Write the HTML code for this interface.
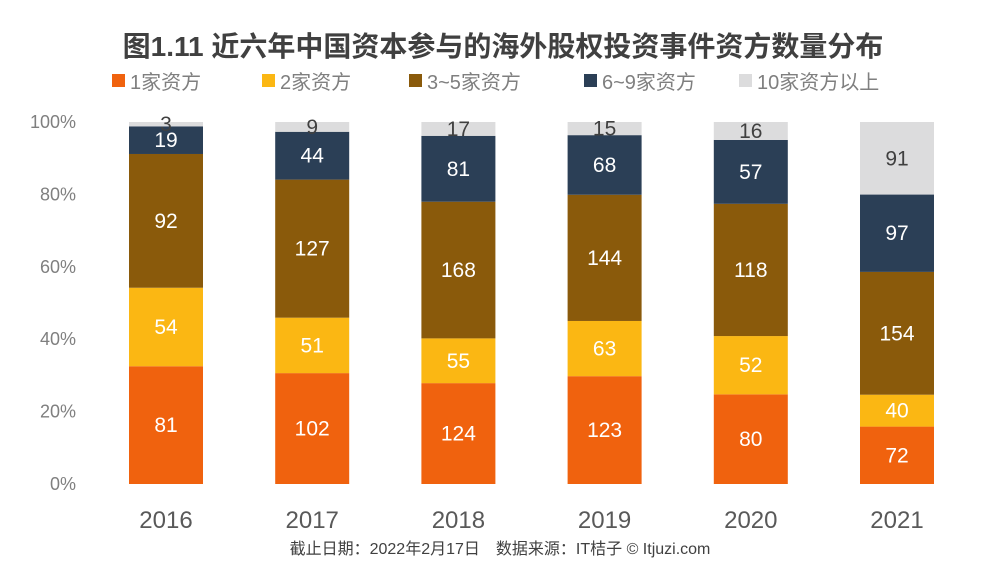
<!DOCTYPE html>
<html><head><meta charset="utf-8"><style>
body{margin:0;width:1000px;height:570px;background:#fff;overflow:hidden;font-family:"Liberation Sans","Noto Sans CJK SC",sans-serif}
svg{display:block}
</style></head><body>
<svg id="c" width="1000" height="570">
<text x="503" y="56" text-anchor="middle" font-size="28" font-weight="bold" fill="#404040">图1.11 近六年中国资本参与的海外股权投资事件资方数量分布</text>
<g id="legend"></g>
<g id="axis"></g>
<g id="bars"></g>
<text x="500" y="554" text-anchor="middle" font-size="16" fill="#404040">截止日期：2022年2月17日　数据来源：IT桔子 © Itjuzi.com</text>
</svg>
<script>
const years=["2016","2017","2018","2019","2020","2021"];
const seriesNames=["1家资方","2家资方","3~5家资方","6~9家资方","10家资方以上"];
const s1=[81,102,124,123,80,72];
const s2=[54,51,55,63,52,40];
const s3=[92,127,168,144,118,154];
const s4=[19,44,81,68,57,97];
const s5=[3,9,17,15,16,91];
const yTicks=[0,20,40,60,80,100];
const series=[s1,s2,s3,s4,s5];
const colors=["#f0620e","#fbb713","#8a5a0b","#2b3f56","#dcdcdd"];
const textColors=["#fff","#fff","#fff","#fff","#404040"];
const NS="http://www.w3.org/2000/svg";
function mk(t,a,p,txt){const e=document.createElementNS(NS,t);for(const k in a)e.setAttribute(k,a[k]);if(txt!==undefined)e.textContent=txt;p.appendChild(e);return e;}
const y0=484,y1=122;
function yS(p){return y0-(p/100)*(y0-y1);}
function xS(i){return 166+i*146.2;}
const bw=74;
const ax=document.getElementById('axis');
yTicks.forEach(t=>{const e=mk('text',{x:76,y:yS(t)+6,'text-anchor':'end','font-size':18,fill:'#7f7f7f'},ax,t+'%');

});
const lg=document.getElementById('legend');
const lx=[112,262,409,584,739];
seriesNames.forEach((n,i)=>{const g=mk('g',{},lg);


mk('rect',{x:lx[i],y:74,width:13,height:13,fill:colors[i]},g);
mk('text',{x:lx[i]+18,y:89,'font-size':20,fill:'#7f7f7f'},g,n);});
const bg=document.getElementById('bars');
years.forEach((yr,i)=>{
 const tot=series.reduce((a,s)=>a+s[i],0);let cum=0;
 series.forEach((s,k)=>{const v=s[i];const top=yS((cum+v)/tot*100),bot=yS(cum/tot*100);cum+=v;
  const r=mk('rect',{x:xS(i)-bw/2,y:top,width:bw,height:bot-top,fill:colors[k]},bg);
  
  
  const t=mk('text',{x:xS(i),y:(top+bot)/2+7,'text-anchor':'middle','font-size':21,fill:textColors[k]},bg,v);
  
  
 });
 const xl=mk('text',{x:xS(i),y:528,'text-anchor':'middle','font-size':24,fill:'#595959'},bg,yr);
 
 
});
</script>
</body></html>
